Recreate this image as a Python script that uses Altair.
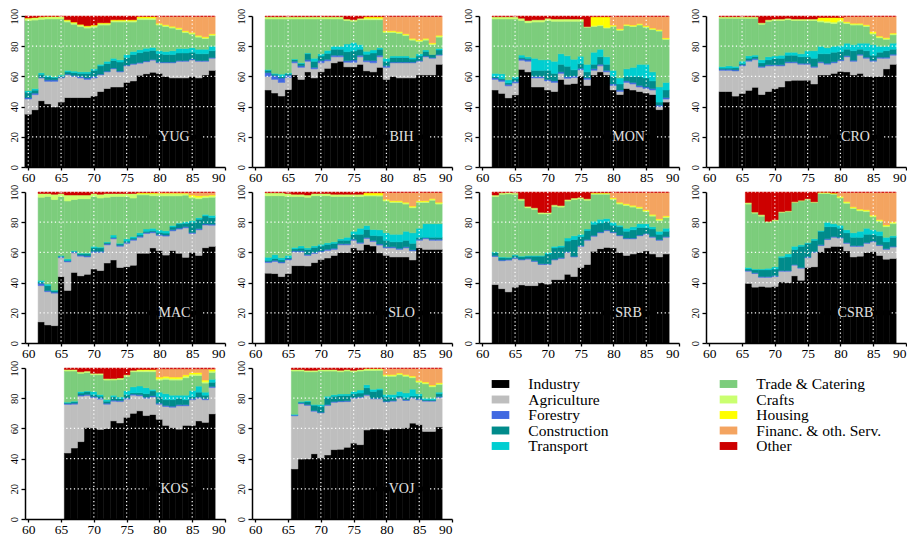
import altair as alt
import pandas as pd

SERIF = "Liberation Serif"

CATEGORIES = ["Industry", "Agriculture", "Forestry", "Construction", "Transport",
              "Trade & Catering", "Crafts", "Housing", "Financ. & oth. Serv.", "Other"]
COLORS = ["#000000", "#BEBEBE", "#4169E1", "#008B8B", "#00CED1",
          "#7CCD7C", "#CAFF70", "#FFFF00", "#F4A460", "#CD0000"]
KEYS = ["ind", "agr", "for", "con", "tra", "trd", "cra", "hou", "fin", "oth"]

PANELS = ["YUG", "BIH", "MON", "CRO", "MAC", "SLO", "SRB", "CSRB", "KOS", "VOJ"]
FIRST_YEAR = {"YUG": 60, "BIH": 62, "MON": 62, "CRO": 62, "MAC": 62, "SLO": 62,
              "SRB": 62, "CSRB": 66, "KOS": 66, "VOJ": 66}
LAST_YEAR = 88
X_TICKS = [60, 65, 70, 75, 80, 85, 90]
Y_TICKS = [0, 20, 40, 60, 80, 100]
GRID_X = [60, 65, 70, 75, 80, 85, 90]
GRID_Y = [20, 40, 60, 80, 100]
LABEL_X = 82.3
LABEL_Y = 20

# ---- shares (%) per year ----
YUG = {
 "ind": [35, 38, 44, 42, 40, 43, 46, 46, 46, 46,
         47, 50, 52, 53, 53, 56, 57, 61, 62, 63,
         62, 60, 59, 59, 59, 60, 59, 61, 64],
 "agr": [10, 10, 15, 15, 17, 16, 15, 14, 13, 12,
         12, 11, 11, 12, 10, 11, 11, 8, 8, 8,
         7, 9, 10, 11, 11, 11, 11, 9, 8],
 "for": [1, 1, 0.5, 1, 1, 0.5, 0.5, 0.5, 1, 1,
         1, 0.5, 0.5, 0.5, 0.5, 0.5, 0.5, 0.5, 0.5, 0.5,
         0.5, 0.5, 0.5, 0.5, 0.5, 0.5, 0.5, 0.5, 0.5],
 "con": [3.5, 2, 2, 2, 1.5, 1, 1.5, 2, 2, 3,
         4, 5.5, 5, 5, 6, 5, 6, 6.5, 6.5, 6,
         5.5, 5, 5, 5, 5, 4.5, 4.5, 4.5, 4.5],
 "tra": [1, 1, 1, 1, 0.5, 0.5, 1, 1, 1, 1,
         1, 1, 1.5, 1.5, 1.5, 2, 2, 2, 2, 2,
         2, 2, 2.5, 3, 3, 3, 3, 3, 3],
 "trd": [46.5, 45.5, 35.5, 37.5, 38.5, 37, 32, 31, 30, 29,
         27.5, 26, 24, 24, 25, 21.5, 19.5, 20, 19, 18.5,
         17, 16.5, 15, 12.5, 10.5, 9, 8, 7, 7],
 "cra": [1.5, 1.5, 1.5, 1.5, 1.5, 1.5, 1, 1, 1, 1,
         1, 1, 1, 1, 1, 1, 1, 1, 1, 1,
         0.7, 0.7, 0.7, 0.7, 0.7, 0.7, 0.7, 0.7, 0.7],
 "hou": [0.2, 0.2, 0.2, 0.2, 0.2, 0.2, 0.5, 0.5, 0.5, 0.5,
         0.5, 0.5, 0.5, 0.5, 0.5, 0.5, 0.5, 1, 1, 1,
         0.5, 0.5, 0.5, 0.5, 0.5, 0.5, 0.5, 0.5, 0.5],
 "fin": [0, 0, 0, 0, 0, 0, 0, 0, 0, 0,
         0, 0, 0, 0, 0, 0, 0, 0, 0, 0,
         4.5, 5.5, 6.5, 7.5, 9.5, 10.5, 12.5, 13.5, 11.5],
 "oth": [1.3, 1, 0.5, 0.3, 0.3, 0.3, 2.5, 4, 5.5, 6.5,
         6, 4.5, 4.5, 2.5, 2.5, 2.5, 2.5, 0.4, 0.4, 0.4,
         0.3, 0.3, 0.3, 0.3, 0.3, 0.3, 0.3, 0.3, 0.3],
}

BIH = {
 "ind": [51, 49, 47, 51, 61, 58, 63, 59,
         63, 66, 69, 70, 66, 66, 68, 64, 63, 66,
         58, 60, 59, 59, 59, 61, 61, 61, 68],
 "agr": [9, 9, 9, 8, 8, 8, 7, 6,
         6, 5, 4, 3, 3, 3, 5, 6, 6, 7,
         8, 9, 10, 10, 10, 9, 12, 11, 6],
 "for": [2.5, 2.5, 3, 1.5, 1, 1, 1, 1,
         1.5, 1, 1, 1, 1, 1.5, 1, 1, 1.5, 1,
         1, 0.5, 0.5, 0.5, 0.5, 0.5, 0.5, 0.5, 0.5],
 "con": [1.5, 1, 1, 1, 1, 1.5, 4, 4,
         3, 4, 4, 4, 6, 6, 4, 4, 5, 4,
         3, 3, 3, 3, 2, 3, 3, 2, 3],
 "tra": [0.5, 0.5, 1.5, 0.5, 0.5, 0.5, 0.5, 2,
         1.5, 2, 2, 2, 5, 5.5, 3, 2, 2, 1,
         2, 1, 1, 1, 1, 1.5, 1, 0, 1],
 "trd": [33.5, 36, 36.5, 35.5, 26.5, 29, 22.5, 26,
         23, 21, 18, 18, 15.5, 14, 16.5, 21, 20, 18.5,
         17, 15.5, 15, 13.5, 11.5, 8, 6.5, 6.5, 7.5],
 "cra": [1.5, 1.5, 1.5, 1.5, 1.5, 1.5, 1.5, 1.5,
         1.5, 1.5, 1.5, 1.5, 1, 1, 1, 1, 1, 1,
         0.7, 0.7, 0.7, 0.7, 0.7, 0.7, 0.7, 0.7, 0.7],
 "hou": [0, 0, 0, 0, 0, 0, 0, 0,
         0, 0, 0, 0, 0, 0, 0, 1, 1, 1,
         0.5, 0.5, 0.5, 0.5, 0.5, 0.5, 0.5, 0.5, 0.5],
 "fin": [0, 0, 0, 0, 0, 0, 0, 0,
         0, 0, 0, 0, 0, 0, 0, 0, 0, 0,
         9.5, 9.5, 10, 11.5, 14.5, 15.5, 14.5, 17.5, 12.5],
 "oth": [0.5, 0.5, 0.5, 0.5, 0.5, 0.5, 0.5, 0.5,
         0.5, 0.5, 0.5, 0.5, 2, 2.5, 1.5, 0.5, 0.5, 0.5,
         0.3, 0.3, 0.3, 0.3, 0.3, 0.3, 0.3, 0.3, 0.3],
}

MON = {
 "ind": [51, 49, 46, 48, 65, 63, 53, 53,
         51, 50, 58, 55, 55, 60, 54, 61, 63, 61,
         51, 48, 52, 51, 50, 49, 48, 38, 43],
 "agr": [7, 8, 8, 8, 6, 7, 6, 6,
         6, 6, 4, 4, 4, 4, 4, 3, 4, 2,
         3, 2, 4, 4, 3, 3, 3, 2, 2],
 "for": [1, 1, 1, 1, 1, 1, 1, 1,
         1, 1, 1, 1, 1, 1, 1, 1, 1, 1,
         1, 1, 1, 1, 1, 1, 1, 1, 1],
 "con": [1, 1, 1, 2, 1, 1, 4, 4,
         6, 5, 5, 7, 4, 3, 4, 3, 5, 4,
         5, 4, 3, 4, 6, 6, 5, 2, 5],
 "tra": [2, 3, 2, 1, 1.5, 1, 8, 7,
         7, 8, 7, 7, 7, 5, 5, 8, 5, 5,
         4, 4, 5, 6, 8, 9, 6, 10, 5],
 "trd": [36, 36.5, 40.5, 38.5, 23, 22.5, 24, 25,
         26, 26.5, 21.5, 23, 25, 23, 24.5, 17, 15.5, 19,
         29, 31.5, 28.5, 27, 26, 24.5, 28, 37, 28.5],
 "cra": [1.5, 1.5, 1.5, 1.5, 1.5, 1.5, 1.5, 1.5,
         1.5, 1.5, 1.5, 1.5, 1.5, 1.5, 0.5, 0.5, 0.5, 0.5,
         0.5, 0.5, 0.5, 0.5, 0.5, 0.5, 0.5, 0.5, 0.5],
 "hou": [0, 0, 0, 0, 0, 0, 0, 0,
         0, 0, 0, 0, 0, 0, 0, 6, 5.5, 7,
         0.5, 0.5, 0.5, 0.5, 0.5, 0.5, 0.5, 0.5, 0.5],
 "fin": [0, 0, 0, 0, 0, 0, 0, 0,
         0, 0, 0, 0, 0, 0, 0, 0, 0, 0,
         5.7, 8.2, 5.2, 5.7, 4.7, 6.2, 7.7, 8.7, 14.2],
 "oth": [0.5, 0.5, 0.5, 0.5, 1.5, 3, 2.5, 2.5,
         1.5, 2, 2, 2, 2, 2, 7, 0.5, 0.5, 0.5,
         0.3, 0.3, 0.3, 0.3, 0.3, 0.3, 0.3, 0.3, 0.3],
}

CRO = {
 "ind": [50, 50, 46.5, 48, 50, 52, 48, 50,
         52, 53, 57, 57.5, 57.5, 57.5, 55, 61, 61, 62,
         63, 63, 61, 62, 60, 60, 60, 65, 68],
 "agr": [14, 14, 16.5, 18, 19, 18, 18, 17,
         15, 14, 12, 11.5, 10.5, 10.5, 11, 8, 7, 7,
         7, 10, 9, 12, 12, 10, 12, 7, 6],
 "for": [0.7, 0.7, 0.7, 0.7, 0.7, 0.7, 0.7, 0.7,
         0.7, 0.7, 0.7, 0.7, 0.7, 0.7, 0.7, 0.7, 0.7, 0.7,
         0.7, 0.7, 0.7, 0.7, 0.7, 0.7, 0.7, 0.7, 0.7],
 "con": [0.8, 0.8, 1.3, 0.8, 1.3, 1.3, 2.3, 3.3,
         4.3, 4.3, 4.3, 4.3, 4.3, 4.3, 5.3, 5.3, 6.3, 6.3,
         5.3, 4.3, 6.3, 3.3, 4.3, 3.3, 3.3, 4.3, 3.3],
 "tra": [1, 1.5, 1, 1.5, 1.5, 1, 2, 2,
         1.5, 2, 2, 2, 2, 4, 5, 5, 4, 4,
         4, 4, 4, 4, 5, 7, 4, 3, 4],
 "trd": [32, 31.5, 31.5, 28, 24.5, 24, 23.5, 23.5,
         23.5, 23, 21.5, 21, 22, 20, 20, 16, 16.5, 15,
         15.5, 13, 13, 12, 11, 7, 5.5, 4.5, 5.5],
 "cra": [1, 1, 1, 1, 1, 1, 1, 1,
         1, 1, 1, 1, 1, 1, 1, 1, 1, 1,
         1, 0.7, 0.7, 0.7, 0.7, 0.7, 0.7, 0.7, 0.7],
 "hou": [0, 0, 0, 0, 0, 0, 0, 0,
         0, 0, 0, 0, 0, 0, 0, 2, 2.5, 3,
         2, 0.5, 0.5, 0.5, 0.5, 1, 0.5, 0.5, 0.5],
 "fin": [0, 0, 0, 0, 0, 0, 0, 0,
         0, 0, 0, 0, 0, 0, 0, 0, 0, 0,
         0, 3.5, 4.5, 4.5, 5.5, 10, 13, 14, 11],
 "oth": [0.5, 0.5, 0.5, 0.5, 0.5, 0.5, 4.5, 2.5,
         2, 2, 1.5, 2, 2, 2, 2, 1, 1, 1,
         1, 0.3, 0.3, 0.3, 0.3, 0.3, 0.3, 0.3, 0.3],
}

MAC = {
 "ind": [14, 12, 11.5, 44, 35, 47, 44.5, 45.5,
         49, 48, 53, 55, 50, 50.5, 51.5, 59.5, 59.5, 63,
         61, 58, 61, 59.5, 56.5, 60, 58, 63, 64],
 "agr": [24, 22, 21.5, 12.5, 19, 13, 13, 11.5,
         11, 12, 12, 14, 14, 15.5, 16.5, 10.5, 13, 10,
         10, 12.5, 13, 16, 19.5, 12.5, 17, 15, 14],
 "for": [1.5, 0.7, 0.7, 0.7, 0.7, 0.7, 0.7, 0.7,
         0.7, 0.7, 0.7, 0.7, 0.7, 0.7, 0.7, 0.7, 0.7, 0.7,
         0.7, 0.7, 0.7, 0.7, 0.7, 0.7, 0.7, 0.7, 0.7],
 "con": [1, 3.3, 0.8, 0.3, 0.3, 0.3, 0.8, 1.3,
         2.3, 2.3, 0.8, 0.3, 0.8, 0.8, 0.8, 0.8, 0.8, 0.8,
         1.3, 1.3, 1.8, 2.8, 2.3, 6.8, 6.3, 5.3, 4.3],
 "tra": [1, 1, 0.5, 0.5, 1, 0.5, 0.5, 0.5,
         1, 0.5, 0.5, 1.5, 0.5, 1.5, 1, 1.5, 1.5, 1.5,
         1.5, 1.5, 1, 0.5, 1, 1, 1, 1, 1.5],
 "trd": [55, 58, 60, 39, 38.5, 34, 36, 36,
         33, 32.5, 29.5, 25.5, 31, 28, 25.5, 25, 22.5, 21.5,
         22.5, 23, 19.5, 18, 17.5, 15, 12.5, 11, 12],
 "cra": [2.5, 2, 3.5, 2, 4, 3, 2.5, 2.5,
         2, 2.5, 2.5, 2, 2, 2, 3, 1, 1, 1.5,
         1.5, 1.5, 1.5, 1.5, 1, 1, 1, 1, 1],
 "hou": [0, 0, 0, 0, 0, 0, 0, 0,
         0, 0, 0, 0, 0, 0, 0, 0.5, 0.5, 0.5,
         0.3, 0.3, 0.3, 0.3, 0.3, 1, 1, 0.5, 0.5],
 "fin": [0, 0, 0, 0, 0, 0, 0, 0,
         0, 0, 0, 0, 0, 0, 0, 0, 0, 0,
         0.5, 0.5, 0.5, 0.5, 0.5, 1.7, 2.2, 2, 1.7],
 "oth": [1, 1, 1.5, 1, 2, 2, 2, 2,
         1, 1.5, 1, 1, 1, 1, 1, 0.5, 0.5, 0.5,
         0.3, 0.3, 0.3, 0.3, 0.3, 0.3, 0.3, 0.3, 0.3],
}

SLO = {
 "ind": [46, 46, 44, 46, 51, 51, 51, 53,
         55, 56, 58, 60, 60, 63, 61.5, 65, 64, 59,
         58, 57, 57, 57, 55, 63, 62, 62, 62],
 "agr": [7, 8, 9, 9, 9, 9, 7, 6,
         5, 5, 4, 5, 5, 5, 4.5, 4, 3, 5,
         5, 6, 5, 6, 6, 5, 7, 6, 6],
 "for": [0.7, 0.7, 0.7, 0.7, 0.7, 0.7, 0.7, 0.7,
         0.7, 0.7, 0.7, 0.7, 0.7, 0.7, 0.7, 0.7, 0.7, 0.7,
         0.7, 0.7, 0.7, 0.7, 0.7, 0.7, 0.7, 0.7, 0.7],
 "con": [0.8, 1.3, 1.3, 0.8, 1.3, 1.8, 3.3, 3.3,
         3.3, 3.3, 3.3, 2.3, 2.3, 3.3, 5.3, 5.3, 3.3, 5.3,
         4.3, 3.3, 4.3, 4.3, 4.3, 1.3, 0.3, 1.3, 1.3],
 "tra": [2, 2.5, 1.5, 1.5, 1, 1.5, 1, 1,
         1, 1, 1, 1, 2, 2, 4, 2.5, 4, 4,
         5, 5, 5, 6, 7, 6, 9, 9, 9],
 "trd": [40.5, 39, 41, 39, 33.5, 32.5, 33.5, 33,
         32, 31, 30, 28, 27, 23, 21, 19.5, 22, 22,
         21, 21, 21, 18, 16.5, 17, 14, 15.5, 13],
 "cra": [2, 2, 2, 2, 1.5, 1.5, 1.5, 1.5,
         1.5, 1.5, 1.5, 1.5, 1.5, 1.5, 1.5, 0.7, 0.7, 0.7,
         0.7, 0.7, 0.7, 0.7, 0.7, 0.7, 0.7, 0.7, 0.7],
 "hou": [0, 0, 0, 0, 0, 0, 0, 0,
         0, 0, 0, 0, 0, 0, 0, 1.5, 1.5, 1.5,
         0.5, 0.5, 0.5, 0.5, 0.5, 0.5, 0.5, 0.5, 0.5],
 "fin": [0, 0, 0, 0, 0, 0, 0, 0,
         0, 0, 0, 0, 0, 0, 0, 0, 0, 0,
         4.5, 5.5, 5.5, 6.5, 9, 5.5, 5.5, 4, 6.5],
 "oth": [0.5, 0.5, 0.5, 1, 1.5, 1.5, 2, 1,
         1, 1, 1.5, 1.5, 1.5, 1.5, 1.5, 0.5, 0.5, 0.5,
         0.3, 0.3, 0.3, 0.3, 0.3, 0.3, 0.3, 0.3, 0.3],
}

SRB = {
 "ind": [38.5, 36, 34, 37, 38.5, 38, 38, 40,
         39, 42, 42, 45.5, 44, 50, 52, 61, 62.5, 63,
         63, 60, 58, 59, 60, 61, 59, 57, 59],
 "agr": [18.5, 18.5, 21, 19, 16.5, 17.5, 16, 12,
         13, 13, 14, 14.5, 13, 14, 16, 10, 10.5, 11,
         10, 11, 11, 10, 11, 11, 11, 11, 11],
 "for": [0.5, 0.5, 0.5, 0.5, 0.5, 0.5, 0.5, 0.5,
         0.5, 0.5, 0.5, 0.5, 0.5, 0.5, 0.5, 0.5, 0.5, 0.5,
         0.5, 0.5, 0.5, 0.5, 0.5, 0.5, 0.5, 0.5, 0.5],
 "con": [2, 1.5, 1, 1.5, 1.5, 1.5, 3, 5,
         6.5, 7.5, 7, 7, 11, 6, 6, 7.5, 6, 5.5,
         4.5, 5.5, 4.5, 5.5, 5, 4, 5, 3.5, 3.5],
 "tra": [0.5, 0.5, 0.5, 0.5, 0.5, 0.5, 0.5, 0.5,
         1, 1, 1, 2, 2.5, 1.5, 1, 2, 2.5, 2,
         2, 1, 2, 2, 2.5, 2.5, 1.5, 2, 2],
 "trd": [36.5, 41.5, 42, 40, 37, 31.5, 30.5, 27.5,
         25.5, 26.5, 25.5, 24.5, 24, 23.5, 19, 18, 16.5, 16,
         15, 14, 15, 13, 10, 8, 7, 7, 7],
 "cra": [1, 1, 1, 1, 1, 1, 1, 1,
         1, 1, 1, 1, 1, 1, 1, 0.7, 0.7, 0.7,
         0.7, 0.7, 0.7, 0.7, 0.7, 0.7, 0.7, 0.7, 0.7],
 "hou": [0, 0, 0, 0, 0, 0, 0, 0,
         0, 0, 0, 0, 0, 0, 0, 0.3, 0.3, 0.3,
         0.5, 0.5, 0.5, 0.5, 0.5, 0.5, 0.5, 0.5, 0.5],
 "fin": [0, 0, 0, 0, 0, 0, 0, 0,
         0, 0, 0, 0, 0, 0, 0, 0, 0, 0,
         3.5, 6.5, 7.5, 8.5, 9.5, 11.5, 14.5, 17.5, 15.5],
 "oth": [2, 0.5, 0.3, 0.5, 4.5, 9.5, 10.5, 13.5,
         13.5, 8.5, 9, 5, 4, 3.5, 4.5, 0.5, 0.5, 0.5,
         0.3, 0.3, 0.3, 0.3, 0.3, 0.3, 0.3, 0.3, 0.3],
}

CSRB = {
 "ind": [39.5, 37, 37.5, 37,
         37.5, 40.5, 40, 44.5, 41.5, 50, 50.5, 60.5, 63, 64,
         64, 61, 57, 57.5, 60, 60.5, 58, 55.5, 56],
 "agr": [8, 9, 6, 6.5,
         6.5, 7, 7.5, 7, 8, 6.5, 9.5, 4, 5.5, 6,
         5.5, 5, 7, 6.5, 6, 6.5, 6.5, 6.5, 7.5],
 "for": [0.5, 0.5, 0.5, 0.5,
         0.5, 0.5, 0.5, 0.5, 0.5, 0.5, 0.5, 0.5, 0.5, 0.5,
         0.5, 0.5, 0.5, 0.5, 0.5, 0.5, 0.5, 0.5, 0.5],
 "con": [1, 2, 4.5, 4.5,
         4.5, 8.5, 9, 10, 14, 9, 7.5, 9, 8, 6.5,
         6, 6.5, 5.5, 5.5, 5.5, 4.5, 6, 4.5, 6],
 "tra": [1, 0.5, 0.5, 1,
         1.5, 1, 2, 2, 1, 0.5, 1, 0.5, 3, 2,
         2, 2, 3, 4, 4, 3, 3, 3, 1],
 "trd": [42, 37, 35, 30.5,
         30.5, 29, 28, 29, 29, 28.5, 24, 24.5, 19, 19.5,
         18, 17.5, 16, 13.5, 11, 8.5, 6.5, 7, 8],
 "cra": [1, 0.7, 1, 0.5,
         0.7, 0.5, 0.5, 0.5, 0.5, 0.5, 0.5, 0.5, 0.5, 0.5,
         0.7, 0.7, 0.7, 0.7, 0.7, 0.7, 0.7, 0.7, 0.7],
 "hou": [0, 0, 0, 0,
         0, 0, 0, 0, 0, 0, 0, 0.3, 0.3, 0.3,
         0.5, 0.5, 0.5, 0.5, 0.5, 0.5, 0.5, 0.5, 0.5],
 "fin": [0, 0, 0, 0,
         0, 0, 0, 0, 0, 0, 0, 0, 0, 0,
         2.5, 6, 9.5, 11, 11.5, 15, 18, 21.5, 19.5],
 "oth": [7, 13.3, 15, 19.5,
         18.3, 13, 12.5, 6.5, 5.5, 4.5, 6.5, 0.2, 0.2, 0.7,
         0.3, 0.3, 0.3, 0.3, 0.3, 0.3, 0.3, 0.3, 0.3],
}

KOS = {
 "ind": [43.5, 47, 51, 60,
         60, 59, 60, 65, 63, 67, 70, 72, 68.5, 68.5,
         66, 62, 60.5, 59.5, 62, 62, 65, 64, 70],
 "agr": [32, 29, 30, 21,
         20, 20, 16, 13, 14, 12, 12, 10, 11.5, 11.5,
         10, 12.5, 13.5, 15.5, 13, 17, 15, 15, 17.5],
 "for": [0.7, 0.7, 0.7, 0.7,
         0.7, 0.7, 0.7, 0.7, 0.7, 0.7, 0.7, 0.7, 0.7, 0.7,
         0.7, 0.7, 0.7, 0.7, 0.7, 0.7, 0.7, 0.7, 0.7],
 "con": [0.3, 0.8, 1.3, 1.8,
         1.3, 1.3, 1.3, 2.3, 1.3, 2.3, 0.8, 1.3, 2.3, 3.3,
         4.3, 3.8, 4.3, 4.3, 3.3, 1.3, 3.3, 2.3, 2.8],
 "tra": [0.5, 0.5, 1, 0.5,
         2, 1, 1, 1, 1, 2.5, 4, 4.5, 4, 1,
         3, 4, 3, 2, 3, 4, 4, 2, 2],
 "trd": [20.5, 20, 12, 12,
         11, 13, 13, 10, 11.5, 9.5, 10, 9.5, 10.5, 11.5,
         8, 9.5, 10, 10, 11.5, 10, 7, 6, 4.5],
 "cra": [1, 1, 1, 1,
         1, 1, 1, 1, 1, 1, 1, 1, 1, 1,
         1, 1, 1, 1, 1, 1, 1, 1, 1],
 "hou": [0, 0, 0, 0,
         0, 0, 0, 0, 0, 0, 0, 0.5, 0.5, 0.5,
         1, 1, 1, 1, 1, 1, 1, 1, 1],
 "fin": [0, 0, 0, 0,
         0, 0, 0, 0, 0, 0, 0, 0, 0, 0,
         5.5, 5, 5.5, 5.5, 4, 2.5, 2.5, 7.5, 0.5],
 "oth": [1, 1, 2.5, 2,
         3.5, 3.5, 7, 7, 6.5, 4.5, 1.5, 1, 1, 1,
         0.5, 0.5, 0.5, 0.5, 0.5, 0.5, 0.5, 0.5, 0.5],
}

VOJ = {
 "ind": [33, 39.5, 39.5, 43,
         40, 42, 45.5, 45.5, 47, 50, 49, 59, 60, 60,
         59, 60, 60, 60.5, 63.5, 62.5, 58, 58, 61],
 "agr": [35, 36.5, 35, 28,
         29.5, 32.5, 31, 31, 30, 29.5, 31, 23, 20, 20,
         18.5, 18, 20, 18, 16.5, 16.5, 20, 20, 19.5],
 "for": [0.5, 0.5, 0.5, 0.5,
         0.5, 0.5, 0.5, 0.5, 0.5, 0.5, 0.5, 0.5, 0.5, 0.5,
         0.5, 0.5, 0.5, 0.5, 0.5, 0.5, 0.5, 0.5, 0.5],
 "con": [0, 0.5, 2, 3.5,
         4, 4.5, 3.5, 3.5, 3.5, 2.5, 2.5, 4.5, 4.5, 5.5,
         3, 2, 1, 1.5, 1, 2, 0.5, 0.5, 2],
 "tra": [0.5, 0.5, 0.5, 0.5,
         1, 1, 1, 1, 1, 1.5, 2, 2, 1.5, 1,
         1.5, 2, 3, 3, 4.5, 1.5, 1, 1, 1],
 "trd": [28.5, 20, 19, 21.5,
         22, 16.5, 15.5, 14.5, 15, 13, 12.5, 9.5, 12.5, 12,
         12, 12, 11, 11, 7.5, 7.5, 9.5, 7.5, 5],
 "cra": [1, 1, 1, 1,
         1, 1, 1, 1, 1, 1, 1, 1, 1, 1,
         0.7, 0.7, 0.7, 0.7, 0.7, 0.7, 0.7, 0.7, 0.7],
 "hou": [0, 0, 0, 0,
         0, 0, 0, 0, 0, 0, 0, 0.3, 0.3, 0.3,
         0.5, 0.5, 0.5, 0.5, 0.5, 0.5, 0.5, 0.5, 0.5],
 "fin": [0, 0, 0, 0,
         0, 0, 0, 0, 0, 0, 0, 0, 0, 0,
         4, 4, 3, 4, 5, 8, 9, 11, 9.5],
 "oth": [1, 1, 1.5, 1.5,
         1, 1, 1, 1.5, 1, 1.5, 1, 0.3, 0.3, 0.3,
         0.3, 0.3, 0.3, 0.3, 0.3, 0.3, 0.3, 0.3, 0.3],
}

DATA = {"YUG": YUG, "BIH": BIH, "MON": MON, "CRO": CRO, "MAC": MAC,
        "SLO": SLO, "SRB": SRB, "CSRB": CSRB, "KOS": KOS, "VOJ": VOJ}

PANEL_W = 200
PANEL_H = 151


def long_frame(name):
    d = DATA[name]
    years = list(range(FIRST_YEAR[name], LAST_YEAR + 1))
    rows = []
    for k, (key, cat) in enumerate(zip(KEYS, CATEGORIES)):
        vals = d[key]
        assert len(vals) == len(years), (name, key, len(vals), len(years))
        for yr, v in zip(years, vals):
            rows.append({"year": yr, "category": cat, "order": k, "share": v})
    return pd.DataFrame(rows)


cscale = alt.Scale(domain=CATEGORIES, range=COLORS)
xscale = alt.Scale(domain=[59.5, 90], nice=False, zero=False)
yscale = alt.Scale(domain=[0, 100], nice=False, zero=True)
xaxis = alt.Axis(values=X_TICKS, title=None, labelAngle=0, format="d")
yaxis = alt.Axis(values=Y_TICKS, title=None, labelAngle=-90, labelAlign="center",
                 labelBaseline="bottom", format="d")

GRID_STYLE = dict(color="white", strokeDash=[1.2, 2.6], strokeWidth=1.2)


def panel(name):
    df = long_frame(name)
    bars = (
        alt.Chart(df)
        .transform_filter("datum.share > 0")
        .transform_stack(stack="share", as_=["s0", "s1"], groupby=["year"],
                         sort=[alt.SortField("order", order="ascending")],
                         offset="normalize")
        .transform_calculate(y0="100*datum.s0")
        .transform_calculate(y1="100*datum.s1")
        .transform_calculate(xa="datum.year-0.5")
        .transform_calculate(xb="datum.year+0.5")
        .mark_rect(strokeWidth=0.5)
        .encode(
            x=alt.X("xa:Q", scale=xscale, axis=xaxis),
            x2="xb:Q",
            y=alt.Y("y0:Q", scale=yscale, axis=yaxis),
            y2="y1:Q",
            color=alt.Color("category:N", scale=cscale, legend=None),
            stroke=alt.Stroke("category:N", scale=cscale, legend=None),
        )
    )
    vgrid = alt.Chart(pd.DataFrame({"gx": GRID_X})).mark_rule(**GRID_STYLE).encode(
        x=alt.X("gx:Q", scale=xscale, axis=xaxis)
    )
    hgrid = alt.Chart(pd.DataFrame({"gy": GRID_Y})).mark_rule(**GRID_STYLE).encode(
        y=alt.Y("gy:Q", scale=yscale, axis=yaxis),
        x=alt.X(datum=60, scale=xscale, axis=xaxis),
        x2=alt.X2(datum=90),
    )
    lab = pd.DataFrame({"label": [name], "lx": [LABEL_X], "ly": [LABEL_Y]})
    box = (
        alt.Chart(lab)
        .transform_calculate(half="0.8+1.15*length(datum.label)")
        .transform_calculate(bx0="datum.lx-datum.half")
        .transform_calculate(bx1="datum.lx+datum.half")
        .transform_calculate(by0="datum.ly-1.6")
        .transform_calculate(by1="datum.ly+1.6")
        .mark_rect(color="black")
        .encode(
            x=alt.X("bx0:Q", scale=xscale, axis=xaxis), x2="bx1:Q",
            y=alt.Y("by0:Q", scale=yscale, axis=yaxis), y2="by1:Q",
        )
    )
    text = alt.Chart(lab).mark_text(font=SERIF, fontSize=14, color="#E2E2E2").encode(
        x=alt.X("lx:Q", scale=xscale, axis=xaxis),
        y=alt.Y("ly:Q", scale=yscale, axis=yaxis),
        text="label:N",
    )
    return alt.layer(bars, vgrid, hgrid, box, text).properties(width=PANEL_W, height=PANEL_H)


# ---- legend panel (occupies the third and fourth cells of the last row) ----
leg = pd.DataFrame({
    "category": CATEGORIES,
    "lcol": [i // 5 for i in range(len(CATEGORIES))],
    "lrow": [i % 5 for i in range(len(CATEGORIES))],
})
lx = alt.X("lcol:Q", scale=alt.Scale(domain=[0, 1], range=[21.5, 249.5], nice=False, zero=False), axis=None)
ly = alt.Y("lrow:Q", scale=alt.Scale(domain=[0, 4], range=[16, 78], nice=False, zero=False), axis=None)
sym = alt.Chart(leg).mark_point(
    shape="M-1,-0.45L1,-0.45L1,0.45L-1,0.45Z", size=310, filled=True, opacity=1, strokeWidth=0
).encode(x=lx, y=ly, color=alt.Color("category:N", scale=cscale, legend=None))
txt = alt.Chart(leg).mark_text(
    align="left", baseline="middle", dx=27.8, font=SERIF, fontSize=15.5, color="black"
).encode(x=lx, y=ly, text="category:N")
legend_panel = alt.layer(sym, txt).properties(width=PANEL_W, height=PANEL_H)

chart = (
    alt.concat(*[panel(n) for n in PANELS], legend_panel, columns=4,
               spacing={"row": 25, "column": 27}, bounds="flush")
    .properties(padding=0)
    .configure_view(stroke=None)
    .configure_axis(
        labelFont=SERIF, labelColor="black",
        domainColor="black", tickColor="black",
        grid=False, domainWidth=1.5, tickWidth=1.3,
    )
    .configure_axisX(labelFontSize=13.5, tickSize=3, labelPadding=0)
    .configure_axisY(labelFontSize=10.5, tickSize=4, labelPadding=2)
)

chart.save("out.html", embed_options={"renderer": "svg", "actions": False})
